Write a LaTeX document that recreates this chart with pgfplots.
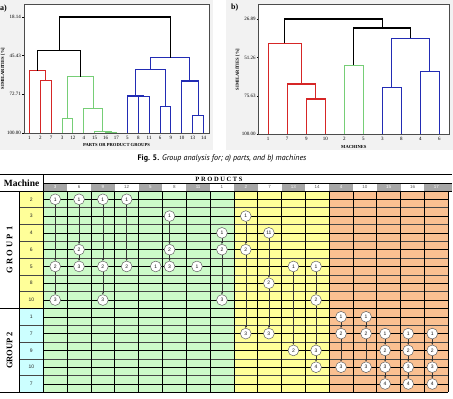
\documentclass[border=0pt]{standalone}
\usepackage{pgfplots}
\pgfplotsset{compat=1.18}
\usepackage{fontspec}
\setmainfont{Liberation Serif}
\setsansfont{Liberation Sans}
\newfontfamily\capfont{PT Sans}
\usetikzlibrary{arrows.meta}

\definecolor{dred}{RGB}{214,38,38}
\definecolor{dgreen}{RGB}{118,206,118}
\definecolor{dblue}{RGB}{34,44,180}
\definecolor{panelgray}{RGB}{242,242,242}
\definecolor{cgreen}{RGB}{204,250,200}
\definecolor{cyellow}{RGB}{255,255,153}
\definecolor{corange}{RGB}{250,192,145}
\definecolor{mcyan}{RGB}{204,255,255}
\definecolor{hgray}{RGB}{166,166,166}

\pgfplotsset{
  dendro/.style={
    scale only axis, y dir=reverse, clip=false,
    axis background/.style={fill=white},
    axis line style={draw=gray!60!black, line width=0.6pt},
    tick align=outside, major tick length=1.8pt,
    ytick style={black, line width=0.4pt}, xtick style={draw=none},
    ytick pos=left,
    ticklabel style={font=\fontsize{5}{6}\selectfont, inner sep=1pt},
    label style={font=\bfseries\fontsize{4.6}{5}\selectfont},
    ylabel shift=-2pt,
  },
  treelink/.style={line width=1.05pt, mark=none, draw=#1, color=#1},
}

\begin{document}
\begin{tikzpicture}
\useasboundingbox (0,0) rectangle (453pt,-399pt);
\fill[panelgray] (0,0) rectangle (213pt,-150pt);
\fill[panelgray] (226pt,0) rectangle (453pt,-150pt);
\node[anchor=west, inner sep=0pt, font=\bfseries\fontsize{8}{9}\selectfont] at (0pt,-9pt) {a)};
\node[anchor=west, inner sep=0pt, font=\bfseries\fontsize{8}{9}\selectfont] at (231pt,-8pt) {b)};

% ---------- dendrogram of parts ----------
\begin{axis}[dendro, at={(24pt,-4pt)}, anchor=north west, width=185pt, height=129pt,
  xmin=0.5, xmax=17.5, ymin=8.97, ymax=100,
  xtick={1,...,17}, xticklabels={1,2,7,3,12,4,15,16,17,5,8,11,6,9,10,13,14},
  ytick={18.14,45.43,72.71,100}, yticklabels={18.14,45.43,72.71,100.00},
  xlabel={PARTS OR PRODUCT GROUPS}, ylabel={SIMILARITIES [\%]}]
% red cluster
\addplot[treelink=dred] coordinates {(2,100)(2,63.1)(3,63.1)(3,100)};
\addplot[treelink=dred] coordinates {(1,100)(1,56.0)(2.5,56.0)(2.5,63.1)};
% green cluster
\addplot[treelink=dgreen] coordinates {(4,100)(4,90.1)(5,90.1)(5,100)};
\addplot[treelink=dgreen] coordinates {(8,100)(8,99.5)(9,99.5)(9,100)};
\addplot[treelink=dgreen] coordinates {(7,100)(7,99.2)(8.5,99.2)(8.5,99.5)};
\addplot[treelink=dgreen] coordinates {(6,100)(6,82.4)(7.75,82.4)(7.75,99.2)};
\addplot[treelink=dgreen] coordinates {(4.5,90.1)(4.5,60.3)(6.875,60.3)(6.875,82.4)};
% blue cluster
\addplot[treelink=dblue] coordinates {(11,100)(11,74.2)(12,74.2)(12,100)};
\addplot[treelink=dblue] coordinates {(10,100)(10,73.9)(11.5,73.9)(11.5,74.2)};
\addplot[treelink=dblue] coordinates {(13,100)(13,81.0)(14,81.0)(14,100)};
\addplot[treelink=dblue] coordinates {(10.75,73.9)(10.75,55.3)(13.5,55.3)(13.5,81.0)};
\addplot[treelink=dblue] coordinates {(16,100)(16,87.7)(17,87.7)(17,100)};
\addplot[treelink=dblue] coordinates {(15,100)(15,63.3)(16.5,63.3)(16.5,87.7)};
\addplot[treelink=dblue] coordinates {(12.125,55.3)(12.125,46.9)(15.75,46.9)(15.75,63.3)};
% upper links
\addplot[treelink=black] coordinates {(1.75,56.0)(1.75,42.1)(5.6875,42.1)(5.6875,60.3)};
\addplot[treelink=black] coordinates {(3.72,42.1)(3.72,18.14)(13.94,18.14)(13.94,46.9)};
\end{axis}

% ---------- dendrogram of machines ----------
\begin{axis}[dendro, at={(258.7pt,-4.7pt)}, anchor=north west, width=190.3pt, height=129.6pt,
  xmin=0.5, xmax=10.5, ymin=17.82, ymax=100,
  xtick={1,...,10}, xticklabels={1,7,9,10,2,5,3,8,4,6},
  ytick={26.89,51.26,75.63,100}, yticklabels={26.89,51.26,75.63,100.00},
  xlabel={MACHINES}, ylabel={SIMILARITIES [\%]}]
\addplot[treelink=dred] coordinates {(3,100)(3,77.6)(4,77.6)(4,100)};
\addplot[treelink=dred] coordinates {(2,100)(2,68.1)(3.5,68.1)(3.5,77.6)};
\addplot[treelink=dred] coordinates {(1,100)(1,42.3)(2.75,42.3)(2.75,68.1)};
\addplot[treelink=dgreen] coordinates {(5,100)(5,56.2)(6,56.2)(6,100)};
\addplot[treelink=dblue] coordinates {(7,100)(7,70.2)(8,70.2)(8,100)};
\addplot[treelink=dblue] coordinates {(9,100)(9,59.9)(10,59.9)(10,100)};
\addplot[treelink=dblue] coordinates {(7.5,70.2)(7.5,39.1)(9.5,39.1)(9.5,59.9)};
\addplot[treelink=black] coordinates {(5.5,56.2)(5.5,32.6)(8.5,32.6)(8.5,39.1)};
\addplot[treelink=black] coordinates {(1.875,42.3)(1.875,26.89)(7,26.89)(7,32.6)};
\end{axis}

\node[font=\capfont\fontsize{8}{9}\selectfont, inner sep=0pt] at (222pt,-158.5pt)
  {\textbf{Fig. 5.} \textit{Group analysis for; a) parts, and b) machines}};

% ---------- machine / product matrix ----------
\begin{axis}[at={(43.3pt,-190.9pt)}, anchor=origin, x=23.82pt, y=16.79pt, y dir=reverse,
  xmin=-1.818, xmax=17.15, ymin=-0.965, ymax=12, hide axis, clip=false]
% cell families
\fill[cgreen]  (axis cs:0,0)  rectangle (axis cs:8,12);
\fill[cyellow] (axis cs:8,0)  rectangle (axis cs:12,12);
\fill[corange] (axis cs:12,0) rectangle (axis cs:17,12);
\fill[cyellow] (axis cs:-1.008,0) rectangle (axis cs:0,7);
\fill[mcyan]   (axis cs:-1.008,7) rectangle (axis cs:0,12);
% column header cells
\fill[hgray] (axis cs:0,-0.453) rectangle (axis cs:1,0);
\fill[hgray] (axis cs:2,-0.453) rectangle (axis cs:3,0);
\fill[hgray] (axis cs:4,-0.453) rectangle (axis cs:5,0);
\fill[hgray] (axis cs:6,-0.453) rectangle (axis cs:7,0);
\fill[hgray] (axis cs:8,-0.453) rectangle (axis cs:9,0);
\fill[hgray] (axis cs:10,-0.453) rectangle (axis cs:11,0);
\fill[hgray] (axis cs:12,-0.453) rectangle (axis cs:13,0);
\fill[hgray] (axis cs:14,-0.453) rectangle (axis cs:15,0);
\fill[hgray] (axis cs:16,-0.453) rectangle (axis cs:17.15,0);
% row grid: cell edges and flow lines through the cell middles
\pgfplotsinvokeforeach{1,...,11}{
  \draw[gray!55!black, line width=0.5pt] (axis cs:-1.008,#1) -- (axis cs:17,#1);
}
\pgfplotsinvokeforeach{0,...,11}{
  \draw[black, line width=0.55pt] (axis cs:0,#1.5) -- (axis cs:17,#1.5);
}
\pgfplotsinvokeforeach{1,...,16}{
  \draw[black, line width=0.6pt] (axis cs:#1,0) -- (axis cs:#1,12);
}
% frame
\draw[black, line width=0.8pt] (axis cs:-1.818,-0.965) -- (axis cs:17.15,-0.965);
\draw[black, line width=0.6pt] (axis cs:0,-0.453) -- (axis cs:17.15,-0.453);
\draw[black, line width=0.6pt] (axis cs:-1.818,0) -- (axis cs:17.15,0);
\draw[black, line width=1.3pt] (axis cs:-1.818,7) -- (axis cs:17,7);
\draw[black, line width=1pt] (axis cs:-1.818,12) -- (axis cs:17,12);
\draw[black, line width=0.8pt] (axis cs:0,-0.965) -- (axis cs:0,12);
\draw[black, line width=0.5pt] (axis cs:-1.008,0) -- (axis cs:-1.008,12);
\draw[black, line width=0.6pt] (axis cs:17,0) -- (axis cs:17,12);
% product numbers in the header
\addplot[only marks, mark size=0pt, mark options={draw=none,fill=none},
  nodes near coords, point meta=explicit symbolic, nodes near coords align=center,
  every node near coord/.append style={font=\sffamily\fontsize{4.5}{5}\selectfont, text=white, inner sep=0pt}]
  table[meta=lab] {
x y lab
0.5 -0.226 3
2.5 -0.226 9
4.5 -0.226 5
6.5 -0.226 11
8.5 -0.226 2
10.5 -0.226 13
12.5 -0.226 4
14.5 -0.226 15
16.5 -0.226 17
};
\addplot[only marks, mark size=0pt, mark options={draw=none,fill=none},
  nodes near coords, point meta=explicit symbolic, nodes near coords align=center,
  every node near coord/.append style={font=\sffamily\fontsize{4.5}{5}\selectfont, text=gray!70!black, inner sep=0pt}]
  table[meta=lab] {
x y lab
1.5 -0.226 6
3.5 -0.226 12
5.5 -0.226 8
7.5 -0.226 1
9.5 -0.226 7
11.5 -0.226 14
13.5 -0.226 10
15.5 -0.226 16
};
% machine numbers
\addplot[only marks, mark size=0pt, mark options={draw=none,fill=none},
  nodes near coords, point meta=explicit symbolic, nodes near coords align=center,
  every node near coord/.append style={font=\sffamily\fontsize{5}{6}\selectfont, text=gray!30!black, inner sep=0pt}]
  table[meta=lab] {
x y lab
-0.504 0.5 2
-0.504 1.5 3
-0.504 2.5 4
-0.504 3.5 6
-0.504 4.5 5
-0.504 5.5 8
-0.504 6.5 10
-0.504 7.5 1
-0.504 8.5 7
-0.504 9.5 9
-0.504 10.5 10
-0.504 11.5 7
};
% flow arrows between consecutive operations
\addplot[quiver={u=0, v=\thisrow{v}}, -{Stealth[length=2.2pt, width=1.8pt]},
  gray!40!black, line width=0.4pt] table {
x y v
0.5 0.83 3.34
0.5 4.83 1.34
1.5 0.83 2.34
1.5 3.83 0.34
2.5 0.83 3.34
2.5 4.83 1.34
3.5 0.83 3.34
5.3 1.83 1.34
5.3 3.83 0.34
7.5 2.83 0.34
7.5 3.83 2.34
8.5 1.83 1.34
8.5 3.83 4.34
9.47 2.83 2.34
9.47 5.83 2.34
10.5 4.83 4.34
11.45 4.83 1.34
11.45 6.83 2.34
11.45 9.83 0.34
12.5 7.83 0.34
12.5 8.83 1.34
13.55 7.83 0.34
13.55 8.83 1.34
14.35 8.83 0.34
14.35 9.83 0.34
14.35 10.83 0.34
15.32 8.83 0.34
15.32 9.83 0.34
15.32 10.83 0.34
16.33 8.83 0.34
16.33 9.83 0.34
16.33 10.83 0.34
};
% operation sequence numbers
\addplot[only marks, mark=*, mark size=5.4pt,
  mark options={fill=white, draw=gray!70!black, line width=0.45pt},
  nodes near coords, point meta=explicit symbolic, nodes near coords align=center,
  every node near coord/.append style={font=\sffamily\fontsize{5}{6}\selectfont, text=gray!20!black, inner sep=0pt}]
  table[meta=lab] {
x y lab
0.5 0.5 1
0.5 4.5 2
0.5 6.5 3
1.5 0.5 1
1.5 3.5 2
1.5 4.5 3
2.5 0.5 1
2.5 4.5 2
2.5 6.5 3
3.5 0.5 1
3.5 4.5 2
4.72 4.5 1
5.3 1.5 1
5.3 3.5 2
5.3 4.5 3
6.45 4.5 1
7.5 2.5 1
7.5 3.5 2
7.5 6.5 3
8.5 1.5 1
8.5 3.5 2
8.5 8.5 3
9.47 2.5 11
9.47 5.5 2
9.47 8.5 3
10.5 4.5 1
10.5 9.5 2
11.45 4.5 1
11.45 6.5 2
11.45 9.5 3
11.45 10.5 4
12.5 7.5 1
12.5 8.5 2
12.5 10.5 3
13.55 7.5 1
13.55 8.5 2
13.55 10.5 3
14.35 8.5 1
14.35 9.5 2
14.35 10.5 3
14.35 11.5 4
15.32 8.5 1
15.32 9.5 2
15.32 10.5 3
15.32 11.5 4
16.33 8.5 1
16.33 9.5 2
16.33 10.5 3
16.33 11.5 4
};
\end{axis}

% table headings
\node[font=\bfseries\fontsize{9.5}{10}\selectfont, inner sep=0pt] at (21.6pt,-183pt) {Machine};
\node[font=\bfseries\fontsize{6.5}{7}\selectfont, inner sep=0pt] at (219pt,-179pt)
  {\addfontfeatures{LetterSpace=25}PRODUCTS};
\node[rotate=90, font=\bfseries\fontsize{8.5}{9}\selectfont, inner sep=0pt] at (9.6pt,-249.6pt)
  {\addfontfeatures{LetterSpace=25}GROUP 1};
\node[rotate=90, font=\bfseries\fontsize{8.5}{9}\selectfont, inner sep=0pt] at (9.6pt,-350.4pt) {GROUP 2};
\end{tikzpicture}
\end{document}
